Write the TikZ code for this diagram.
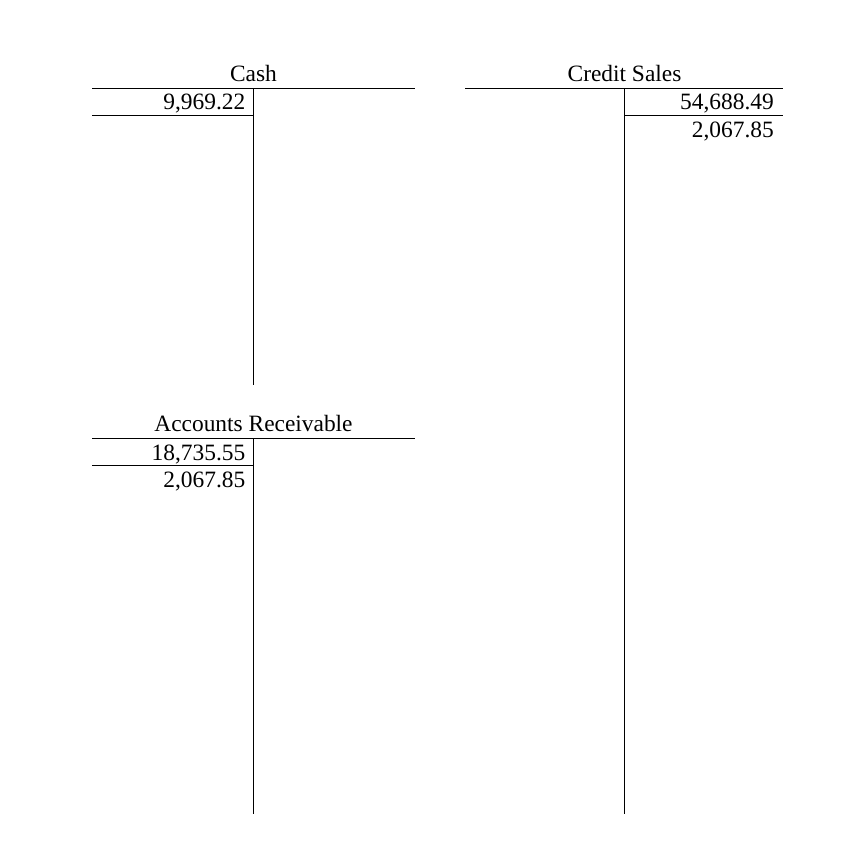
\documentclass[tikz,border=0pt]{standalone}
\usepackage{fontspec}
\setmainfont{Liberation Serif}
\usepackage{tikz}

\tikzset{
  acct/.style={anchor=base,inner sep=0pt,font=\fontsize{23.4}{27}\selectfont},
  amount/.style={anchor=base east,inner sep=0pt,font=\fontsize{23.4}{27}\selectfont},
  rule/.style={line width=0.9pt}
}

\begin{document}
\begin{tikzpicture}[x=1pt,y=-1pt]
            \useasboundingbox (0,0) rectangle (861,853);
            % Cash
            \node[acct] (cash) at (253.5,81.7) {Cash};
            \draw[rule] (92,88.3) -- (415,88.3);
            \draw[rule] (253.5,88.3) -- (253.5,384.5);
            \draw[rule] (92,115.5) -- (253.5,115.5);
            \node[amount] (cashA) at (245.5,110) {9,969.22};
            % Credit Sales
            \node[acct] (sales) at (624.5,81.7) {Credit Sales};
            \draw[rule] (465,88.3) -- (783,88.3);
            \draw[rule] (624.5,88.3) -- (624.5,814);
            \draw[rule] (624.5,115.5) -- (783,115.5);
            \node[amount] (salesA) at (774,110) {54,688.49};
            \node[amount] (salesB) at (774,137.2) {2,067.85};
            % Accounts Receivable
            \node[acct] (recv) at (253.5,431.7) {Accounts Receivable};
            \draw[rule] (92,438.3) -- (415,438.3);
            \draw[rule] (253.5,438.3) -- (253.5,814);
            \draw[rule] (92,465.8) -- (253.5,465.8);
            \node[amount] (recvA) at (245.5,460) {18,735.55};
            \node[amount] (recvB) at (245.5,487.5) {2,067.85};
        \end{tikzpicture}
\end{document}
